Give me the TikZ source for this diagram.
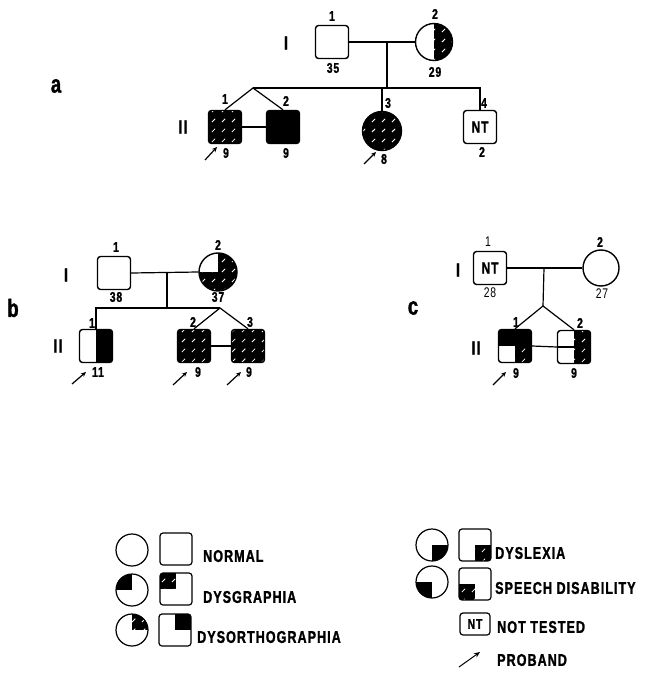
\documentclass[tikz,border=0pt]{standalone}
\usepackage{fontspec}
\newfontfamily\lgd{Liberation Sans}[FakeStretch=0.74,LetterSpace=6,BoldFeatures={FakeBold=1.3}]
\usetikzlibrary{patterns.meta,arrows.meta}

% sparse white dashes used for the hatched quadrants
\tikzdeclarepattern{
  name=whitedash,
  type=uncolored,
  bounding box={(0pt,0pt) and (10pt,10pt)},
  tile size={(10pt,10pt)},
  code={\draw[line width=0.8pt] (2pt,2pt) -- (5.5pt,5.5pt);}
}

% quadrant fills inside a symbol (argument = corner anchor)
\newcommand\qblk[1]{\fill[black, sharp corners] (path picture bounding box.#1) rectangle (path picture bounding box.center);}
\newcommand\qhat[1]{\qblk{#1}\fill[sharp corners, pattern=whitedash, pattern color=white] (path picture bounding box.#1) rectangle (path picture bounding box.center);}

\tikzset{
  male/.style={rectangle, draw, line width=1.4pt, rounded corners=3pt, minimum size=33pt, inner sep=0pt,
               font=\lgd\bfseries\fontsize{16}{16}\selectfont},
  female/.style={circle, draw, line width=1.4pt, minimum size=37pt, inner sep=0pt},
  link/.style={line width=1.2pt, sharp corners},
  num/.style={font=\lgd\bfseries\fontsize{14}{14}\selectfont, inner sep=0pt},
  numr/.style={font=\lgd\fontsize{14}{14}\selectfont, inner sep=0pt},
  gen/.style={font=\lgd\bfseries\fontsize{19}{19}\selectfont, inner sep=0pt},
  panel/.style={font=\lgd\bfseries\fontsize{25}{25}\selectfont, inner sep=0pt},
  legtext/.style={font=\lgd\bfseries\fontsize{17}{17}\selectfont, anchor=west, inner sep=0pt},
  pb/.style={line width=1.2pt, -{Stealth[length=5pt,width=4.5pt]}},
  allhat/.style={path picture={\qhat{north west}\qhat{north east}\qhat{south west}\qhat{south east}}},
}

\begin{document}
\begin{tikzpicture}[x=1pt,y=-1pt]
\fill[white] (0,0) rectangle (653,684);

%% ---------------- pedigree a ----------------
\node[panel] (pa) at (56,86) {a};
\node[gen] (aGI) at (286,43) {I};
\node[gen] (aGII) at (183,127) {II};

\node[male] (aI1) at (332,42) {};
\node[female, path picture={\qhat{north east}\qhat{south east}}] (aI2) at (434,42) {};
\node[num] at (332,16) {1};
\node[num] at (333,68) {35};
\node[num] at (435,14) {2};
\node[num] at (435,72) {29};

\node[male, allhat] (aII1) at (225,127) {};
\node[male, path picture={\qblk{north west}\qblk{north east}\qblk{south west}\qblk{south east}}] (aII2) at (283,127) {};
\node[female, minimum size=39pt, allhat] (aII3) at (382,131) {};
\node[male] (aII4) at (480,127) {NT};
\node[num] at (225,99) {1};
\node[num] at (286,101) {2};
\node[num] at (388,103) {3};
\node[num] at (484,103) {4};
\node[num] at (226,153) {9};
\node[num] at (286,153) {9};
\node[num] at (384,159) {8};
\node[num] at (482,152) {2};

\coordinate (aM) at (387,42);
\coordinate (aS) at (387,88);
\coordinate (aT) at (253,88);
\coordinate (a3) at (382,88);
\coordinate (a4) at (480,88);
\draw[link] (aI1.east) -- (aI2.west);
\draw[link] (aM) -- (aS);
\draw[link] (aT) -- (a4) -- (aII4.north);
\draw[link] (a3) -- (aII3.north);
\draw[link] (aII1.north) -- (aT) -- (aII2.north);
\draw[link] (aII1.east) -- (aII2.west);

\coordinate (pa1) at (205,160);
\coordinate (pa3) at (364,164);
\draw[pb] (pa1) -- ++(12,-13);
\draw[pb] (pa3) -- ++(12,-12);

%% ---------------- pedigree b ----------------
\node[panel] (pb) at (13,308) {b};
\node[gen] (bGI) at (66,275) {I};
\node[gen] (bGII) at (58,346) {II};

\node[male] (bI1) at (114,273) {};
\node[female, minimum size=38pt, path picture={\qhat{north east}\qhat{south west}\qhat{south east}}] (bI2) at (218,272) {};
\node[num] at (116,247) {1};
\node[num] at (116,297) {38};
\node[num] at (218,245) {2};
\node[num] at (218,297) {37};

\node[male, path picture={\qblk{north east}\qblk{south east}}] (bII1) at (96,346) {};
\node[male, allhat] (bII2) at (194,346) {};
\node[male, allhat] (bII3) at (248,346) {};
\node[num] at (92,323) {1};
\node[num] at (193,322) {2};
\node[num] at (250,322) {3};
\node[num] at (98,372) {11};
\node[num] at (198,372) {9};
\node[num] at (249,372) {9};

\coordinate (bM) at (167,273);
\coordinate (bS) at (167,308);
\coordinate (b1) at (96,308);
\coordinate (bT) at (220,308);
\draw[link] (bI1.east) -- (bI2.west);
\draw[link] (bM) -- (bS);
\draw[link] (bII1.north) -- (b1) -- (bT);
\draw[link] (bII2.north) -- (bT) -- (bII3.north);
\draw[link] (bII2.east) -- (bII3.west);

\coordinate (pb1) at (72,384);
\coordinate (pb2) at (173,385);
\coordinate (pb3) at (227,385);
\draw[pb] (pb1) -- ++(14,-12);
\draw[pb] (pb2) -- ++(14,-13);
\draw[pb] (pb3) -- ++(14,-13);

%% ---------------- pedigree c ----------------
\node[panel] (pc) at (413,308) {c};
\node[gen] (cGI) at (458,270) {I};
\node[gen] (cGII) at (476,348) {II};

\node[male] (cI1) at (490,268) {NT};
\node[female, minimum size=36pt] (cI2) at (601,268) {};
\node[numr] at (488,242) {1};
\node[numr] at (490,293) {28};
\node[num] at (600,242) {2};
\node[numr] at (602,294) {27};

\node[male, path picture={\qblk{north west}\qblk{north east}\qhat{south east}}] (cII1) at (515,346) {};
\node[male, path picture={\qhat{north east}\qhat{south east}\draw[line width=1.2pt] (path picture bounding box.west) -- (path picture bounding box.center);}] (cII2) at (574,347) {};
\node[num] at (516,322) {1};
\node[num] at (580,323) {2};
\node[num] at (516,373) {9};
\node[num] at (574,373) {9};

\coordinate (cM) at (544,268);
\coordinate (cT) at (543,306);
\draw[link] (cI1.east) -- (cI2.west);
\draw[link] (cM) -- (cT);
\draw[link] (cII1.north) -- (cT) -- (cII2.north);
\draw[link] (cII1.east) -- (cII2.west);

\coordinate (pc1) at (493,385);
\draw[pb] (pc1) -- ++(13,-13);

%% ---------------- key ----------------
\node[female, minimum size=32pt, line width=1.2pt] (kc1) at (132,550) {};
\node[male, minimum size=32pt, line width=1.2pt] (ks1) at (176,549) {};
\node[legtext] (kt1) at (203,556) {NORMAL};

\node[female, minimum size=32pt, line width=1.2pt, path picture={\qblk{north west}}] (kc2) at (132,590) {};
\node[male, minimum size=32pt, line width=1.2pt, path picture={\qhat{north west}}] (ks2) at (176,589) {};
\node[legtext] (kt2) at (203,597) {DYSGRAPHIA};

\node[female, minimum size=32pt, line width=1.2pt, path picture={\qhat{north east}}] (kc3) at (132,630) {};
\node[male, minimum size=32pt, line width=1.2pt, path picture={\qblk{north east}}] (ks3) at (175,630) {};
\node[legtext] (kt3) at (197,637) {DYSORTHOGRAPHIA};

\node[female, minimum size=32pt, line width=1.2pt, path picture={\qblk{south east}}] (kc4) at (432,545) {};
\node[male, minimum size=32pt, line width=1.2pt, path picture={\qhat{south east}}] (ks4) at (475,545) {};
\node[legtext] (kt4) at (495,553) {DYSLEXIA};

\node[female, minimum size=32pt, line width=1.2pt, path picture={\qblk{south west}}] (kc5) at (432,582) {};
\node[male, minimum size=32pt, line width=1.2pt, path picture={\qhat{south west}}] (ks5) at (475,584) {};
\node[legtext] (kt5) at (495,588) {SPEECH DISABILITY};

\node[male, minimum width=30pt, minimum height=22pt, line width=1.2pt, font=\lgd\bfseries\fontsize{14}{14}\selectfont] (ks6) at (475,624) {NT};
\node[legtext] (kt6) at (497,627) {NOT TESTED};

\coordinate (kp) at (459,667);
\draw[line width=1pt, -{Stealth[length=6pt,width=5pt,open]}] (kp) -- ++(21,-15);
\node[legtext] (kt7) at (497,660) {PROBAND};
\end{tikzpicture}
\end{document}
